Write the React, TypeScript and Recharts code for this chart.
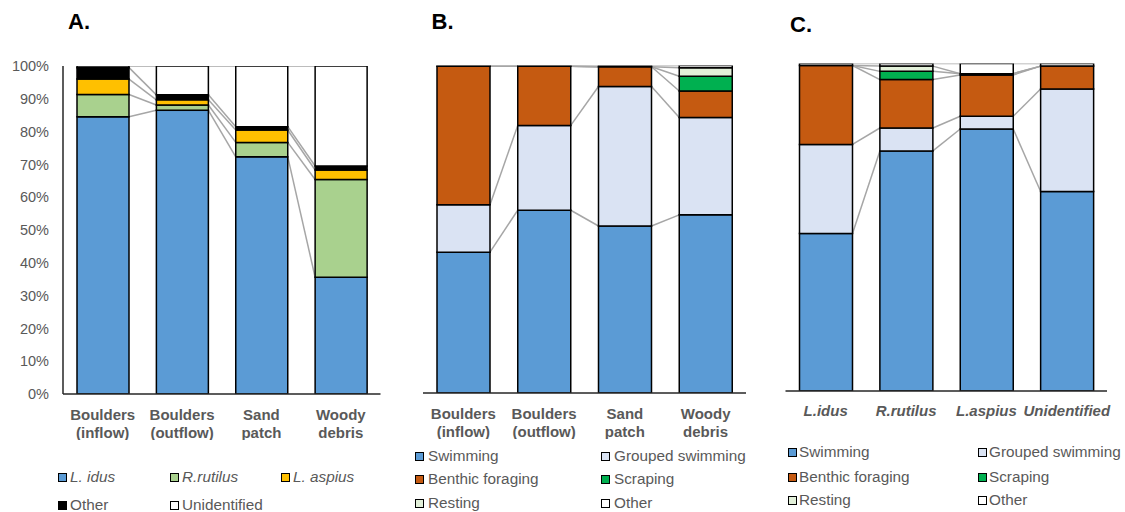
import React from 'react';
import { BarChart, Bar, XAxis, YAxis } from 'recharts';

const FONT = '"Liberation Sans", Arial, sans-serif';
const GREY_TEXT = '#595959';
const SERIES_LINE = '#A6A6A6';
const AXIS_DARK = '#262626';

// categories
const sites = ['Boulders (inflow)', 'Boulders (outflow)', 'Sand patch', 'Woody debris'];
const species = ['L.idus', 'R.rutilus', 'L.aspius', 'Unidentified'];
const yTicks = [0, 10, 20, 30, 40, 50, 60, 70, 80, 90, 100];

// A. species composition per habitat (%)
const lIdus = [84.5, 86.5, 72.3, 35.6];
const rRutilus = [6.8, 1.6, 4.4, 29.8];
const lAspius = [4.7, 1.6, 3.8, 2.9];
const otherSpecies = [3.5, 1.5, 1.0, 1.2];
const unidentified = [0.5, 8.8, 18.5, 30.5];

// B. behaviour per habitat (%)
const swimB = [43.0, 55.8, 51.0, 54.4];
const groupedB = [14.5, 25.9, 42.6, 29.7];
const benthicB = [42.3, 18.1, 6.0, 8.1];
const scrapingB = [0, 0, 0, 4.5];
const restingB = [0, 0, 0, 2.6];
const otherB = [0.2, 0.2, 0.4, 0.7];

// C. behaviour per species (%)
const swimC = [48.1, 73.3, 80.0, 60.9];
const groupedC = [27.2, 7.0, 3.9, 31.3];
const benthicC = [24.1, 14.8, 12.6, 7.0];
const scrapingC = [0, 2.5, 0.4, 0];
const restingC = [0, 1.6, 0, 0];
const otherC = [0.6, 0.8, 3.1, 0.8];

type Series = { key: string; name: string; color: string; italic?: boolean };

const seriesA: Series[] = [
  { key: 'idus', name: 'L. idus', color: '#5B9BD5', italic: true },
  { key: 'rutilus', name: 'R.rutilus', color: '#A9D18E', italic: true },
  { key: 'aspius', name: 'L. aspius', color: '#FFC000', italic: true },
  { key: 'other', name: 'Other', color: '#000000' },
  { key: 'unid', name: 'Unidentified', color: '#FFFFFF' },
];

const behaviour: Series[] = [
  { key: 'swim', name: 'Swimming', color: '#5B9BD5' },
  { key: 'grouped', name: 'Grouped swimming', color: '#DAE3F3' },
  { key: 'benthic', name: 'Benthic foraging', color: '#C55A11' },
  { key: 'scraping', name: 'Scraping', color: '#00B050' },
  { key: 'resting', name: 'Resting', color: '#E2F0D9' },
  { key: 'other', name: 'Other', color: '#FFFFFF' },
];

const rowsA = sites.map((cat, i) => ({
  cat,
  idus: lIdus[i],
  rutilus: rRutilus[i],
  aspius: lAspius[i],
  other: otherSpecies[i],
  unid: unidentified[i],
}));

const rowsB = sites.map((cat, i) => ({
  cat,
  swim: swimB[i],
  grouped: groupedB[i],
  benthic: benthicB[i],
  scraping: scrapingB[i],
  resting: restingB[i],
  other: otherB[i],
}));

const rowsC = species.map((cat, i) => ({
  cat,
  swim: swimC[i],
  grouped: groupedC[i],
  benthic: benthicC[i],
  scraping: scrapingC[i],
  resting: restingC[i],
  other: otherC[i],
}));

// first series draws its rect plus the Excel-like series lines to the next bar
const makeFirstShape = (rows: any[], keys: string[], band: number) => (props: any) => {
  const { x, y, width, height, index, fill } = props;
  const ppu = height / rows[index][keys[0]];
  const zeroY = y + height;
  const links: React.ReactNode[] = [];
  if (index < rows.length - 1) {
    let a = 0;
    let b = 0;
    keys.forEach((k) => {
      a += rows[index][k];
      b += rows[index + 1][k];
      links.push(
        <line
          key={k}
          x1={x + width}
          y1={zeroY - a * ppu}
          x2={x + band}
          y2={zeroY - b * ppu}
          stroke={SERIES_LINE}
          strokeWidth={1.5}
        />
      );
    });
  }
  return (
    <g>
      {links}
      <rect x={x} y={y} width={width} height={height} fill={fill} stroke="#000" strokeWidth={1.5} />
    </g>
  );
};

const SiteTick = (props: any) => {
  const { x, y, payload } = props;
  const label: string = payload.value;
  const sp = label.indexOf(' ');
  const lines = [label.slice(0, sp), label.slice(sp + 1)];
  return (
    <text x={x} y={y} textAnchor="middle" fill={GREY_TEXT} fontSize={15} fontWeight="bold" fontFamily={FONT}>
      <tspan x={x} dy={23.5}>{lines[0]}</tspan>
      <tspan x={x} dy={18}>{lines[1]}</tspan>
    </text>
  );
};

const SpeciesTick = (props: any) => {
  const { x, y, payload } = props;
  return (
    <text x={x} y={y + 23} textAnchor="middle" fill={GREY_TEXT} fontSize={15} fontWeight="bold" fontStyle="italic" fontFamily={FONT}>
      {payload.value}
    </text>
  );
};

type PanelProps = {
  rows: any[];
  series: Series[];
  left: number;
  width: number;
  height: number;
  margin: { top: number; right: number; bottom: number; left: number };
  yAxisWidth: number;
  showY: boolean;
  barSize: number;
  tick: any;
};

function Panel({ rows, series, left, width, height, margin, yAxisWidth, showY, barSize, tick }: PanelProps) {
  const band = (width - margin.left - margin.right - yAxisWidth) / rows.length;
  const keys = series.map((s) => s.key);
  return (
    <div style={{ position: 'absolute', left, top: 0 }}>
      <BarChart width={width} height={height} data={rows} margin={margin}>
        <XAxis
          dataKey="cat"
          interval={0}
          tickLine={false}
          tickSize={0}
          height={46}
          tick={tick}
          axisLine={{ stroke: AXIS_DARK, strokeWidth: 1.5 }}
        />
        <XAxis
          xAxisId="top"
          dataKey="cat"
          orientation="top"
          height={0}
          tick={false}
          tickLine={false}
          axisLine={{ stroke: SERIES_LINE, strokeWidth: 1.5 }}
        />
        <YAxis
          domain={[0, 100]}
          ticks={yTicks}
          allowDataOverflow
          width={yAxisWidth}
          tickLine={false}
          tickSize={0}
          tickMargin={14}
          tick={showY ? { fill: GREY_TEXT, fontSize: 14.5, fontFamily: FONT } : false}
          tickFormatter={(v: number) => `${v}%`}
          axisLine={{ stroke: AXIS_DARK, strokeWidth: 1.5 }}
        />
        <YAxis
          yAxisId="right"
          orientation="right"
          width={0}
          domain={[0, 100]}
          tick={false}
          tickLine={false}
          axisLine={{ stroke: AXIS_DARK, strokeWidth: 1.5 }}
        />
        {series.map((s, i) => (
          <Bar
            key={s.key}
            dataKey={s.key}
            name={s.name}
            stackId="a"
            fill={s.color}
            stroke="#000"
            strokeWidth={1.5}
            barSize={barSize}
            isAnimationActive={false}
            {...(i === 0 ? { shape: makeFirstShape(rows, keys, band) } : {})}
          />
        ))}
      </BarChart>
    </div>
  );
}

function LegendBlock({ series, cols, rows, gap, perRow }: { series: Series[]; cols: number[]; rows: number[]; gap: number; perRow: number }) {
  return (
    <>
      {series.map((s, i) => {
        const cx = cols[i % perRow];
        const cy = rows[Math.floor(i / perRow)];
        return (
          <React.Fragment key={s.key}>
            <div
              style={{
                position: 'absolute',
                left: cx,
                top: cy - 4.5,
                width: 9,
                height: 9,
                boxSizing: 'border-box',
                background: s.color,
                border: '1.5px solid #000',
              }}
            />
            <div
              style={{
                position: 'absolute',
                left: cx + 9 + gap,
                top: cy - 10.5,
                height: 20,
                lineHeight: '20px',
                fontSize: 15.3,
                color: GREY_TEXT,
                fontStyle: s.italic ? 'italic' : 'normal',
                whiteSpace: 'nowrap',
              }}
            >
              {s.name}
            </div>
          </React.Fragment>
        );
      })}
    </>
  );
}

const titleStyle: React.CSSProperties = {
  position: 'absolute',
  fontSize: 22,
  fontWeight: 'bold',
  lineHeight: '22px',
  color: '#000',
};

export default function App() {
  return (
    <div
      style={{
        position: 'absolute',
        left: 0,
        top: 0,
        width: 1125,
        height: 512,
        background: '#fff',
        fontFamily: FONT,
        overflow: 'hidden',
      }}
    >
      <div style={{ ...titleStyle, left: 68, top: 10.5 }}>A.</div>
      <div style={{ ...titleStyle, left: 431.5, top: 10.5 }}>B.</div>
      <div style={{ ...titleStyle, left: 790, top: 13.5 }}>C.</div>

      <Panel
        rows={rowsA}
        series={seriesA}
        left={0}
        width={395}
        height={440}
        margin={{ top: 66, right: 14.5, bottom: 0, left: 0 }}
        yAxisWidth={63}
        showY
        barSize={52}
        tick={<SiteTick />}
      />
      <Panel
        rows={rowsB}
        series={behaviour}
        left={400}
        width={360}
        height={439}
        margin={{ top: 65.5, right: 14, bottom: 0, left: 23 }}
        yAxisWidth={0}
        showY={false}
        barSize={53}
        tick={<SiteTick />}
      />
      <Panel
        rows={rowsC}
        series={behaviour}
        left={770}
        width={350}
        height={437}
        margin={{ top: 63.5, right: 13, bottom: 0, left: 15.5 }}
        yAxisWidth={0}
        showY={false}
        barSize={53}
        tick={<SpeciesTick />}
      />

      <LegendBlock series={seriesA} cols={[58, 170, 281]} rows={[477, 505]} gap={3} perRow={3} />
      <LegendBlock series={behaviour} cols={[415, 601]} rows={[456, 479, 503]} gap={4} perRow={2} />
      <LegendBlock series={behaviour} cols={[788, 978]} rows={[452, 477, 500]} gap={2} perRow={2} />
    </div>
  );
}
